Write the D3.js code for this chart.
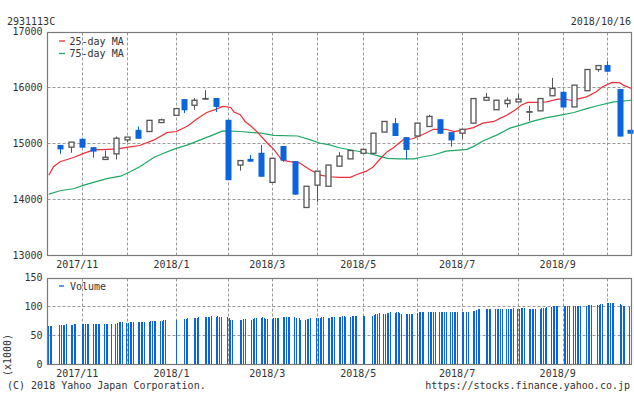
<!DOCTYPE html>
<html>
<head>
<meta charset="utf-8">
<script src="https://cdn.jsdelivr.net/npm/d3@7"></script>
<style>
  body { margin: 0; background: #fff; }
  text { font-family: "DejaVu Sans Mono", monospace; font-size: 10px; fill: #333; }
</style>
</head>
<body>
<div id="chart"></div>
<script>
// Weekly candles (first trading day of each week)
const weekDates = ["2017-10-23","2017-10-30","2017-11-06","2017-11-13","2017-11-20","2017-11-27","2017-12-04","2017-12-11","2017-12-18","2017-12-25",
  "2018-01-04","2018-01-09","2018-01-15","2018-01-22","2018-01-29","2018-02-05","2018-02-13","2018-02-19","2018-02-26","2018-03-05",
  "2018-03-12","2018-03-19","2018-03-26","2018-04-02","2018-04-09","2018-04-16","2018-04-23","2018-05-01","2018-05-07","2018-05-14",
  "2018-05-21","2018-05-28","2018-06-04","2018-06-11","2018-06-18","2018-06-25","2018-07-02","2018-07-09","2018-07-17","2018-07-23",
  "2018-07-30","2018-08-06","2018-08-13","2018-08-20","2018-08-27","2018-09-03","2018-09-10","2018-09-18","2018-09-25","2018-10-01",
  "2018-10-09","2018-10-15"];
const opens  = [14970,14930,15080,14930,14710,14810,15060,15240,15210,15370,15500,15790,15680,15790,15810,15420,14610,14720,14830,14300,
  14950,14680,13850,14250,14230,14590,14720,14820,14820,15200,15360,15110,15130,15300,15430,15200,15180,15360,15770,15600,
  15710,15740,15560,15580,15850,15920,15650,15940,16320,16400,15970,15240];
const highs  = [14970,15020,15080,14930,14870,15120,15110,15300,15410,15440,15620,15790,15810,15950,15810,15420,14690,14790,14970,14730,
  14950,14680,14230,14500,14610,14840,14870,14890,15180,15390,15450,15110,15360,15510,15430,15200,15250,15800,15900,15770,
  15820,15880,15670,15800,16170,15930,16040,16320,16390,16470,15970,15240];
const lows   = [14810,14830,14920,14740,14710,14710,15020,15080,15210,15370,15500,15540,15600,15780,15560,14340,14510,14670,14400,14300,
  14670,14080,13850,13950,14230,14590,14720,14820,14820,15200,15130,14710,15130,15300,15170,14940,15080,15360,15770,15600,
  15640,15740,15400,15580,15850,15640,15650,15940,16280,16280,15120,15170];
const closes = [14890,15020,14920,14850,14750,15090,15110,15080,15410,15420,15620,15590,15770,15800,15650,14340,14690,14670,14400,14730,
  14690,14080,14230,14500,14610,14770,14870,14890,15180,15390,15130,14880,15360,15480,15170,15050,15250,15800,15820,15770,
  15770,15790,15565,15800,15980,15640,16040,16320,16390,16280,15120,15170];

// 25-day moving average
const ma25Dates = ["2017-10-16","2017-10-19","2017-10-23","2017-11-01","2017-11-06","2017-11-13","2017-11-22","2017-11-28","2017-12-05","2017-12-12",
  "2017-12-21","2017-12-29","2018-01-04","2018-01-11","2018-01-17","2018-01-23","2018-01-29","2018-02-02","2018-02-07","2018-02-09",
  "2018-02-13","2018-02-16","2018-02-20","2018-02-24","2018-03-02","2018-03-06","2018-03-11","2018-03-16","2018-03-22","2018-03-29",
  "2018-04-04","2018-04-10","2018-04-16","2018-04-23","2018-04-27","2018-05-03","2018-05-07","2018-05-11","2018-05-16","2018-05-20",
  "2018-05-26","2018-06-01","2018-06-06","2018-06-14","2018-06-22","2018-06-27","2018-07-03","2018-07-09","2018-07-15","2018-07-22",
  "2018-07-26","2018-07-30","2018-08-04","2018-08-08","2018-08-12","2018-08-18","2018-08-24","2018-08-31","2018-09-04","2018-09-08",
  "2018-09-12","2018-09-18","2018-09-24","2018-09-28","2018-10-04","2018-10-09","2018-10-11","2018-10-16"];
const ma25Values = [14430,14580,14670,14750,14810,14880,14890,14900,14930,14960,
  15060,15190,15210,15310,15440,15550,15610,15660,15640,15560,
  15510,15390,15300,15190,15000,14890,14700,14670,14650,14520,
  14430,14400,14390,14390,14440,14500,14570,14700,14850,14920,
  15060,15080,15140,15250,15250,15210,15240,15280,15360,15390,
  15450,15500,15590,15680,15730,15730,15740,15790,15790,15770,
  15790,15830,15920,16010,16090,16080,16040,15980];

// 75-day moving average
const ma75Dates = ["2017-10-16","2017-10-23","2017-11-01","2017-11-07","2017-11-13","2017-11-22","2017-11-30","2017-12-06","2017-12-12","2017-12-21",
  "2017-12-27","2018-01-02","2018-01-11","2018-01-19","2018-01-27","2018-02-02","2018-02-13","2018-02-26","2018-03-06","2018-03-21",
  "2018-03-29","2018-04-04","2018-04-10","2018-04-16","2018-04-25","2018-05-03","2018-05-11","2018-05-16","2018-05-24","2018-06-02",
  "2018-06-06","2018-06-14","2018-06-22","2018-07-05","2018-07-09","2018-07-15","2018-07-24","2018-08-01","2018-08-08","2018-08-16",
  "2018-08-24","2018-09-01","2018-09-10","2018-09-18","2018-09-26","2018-10-05","2018-10-16"];
const ma75Values = [14090,14150,14190,14250,14300,14370,14410,14490,14580,14750,
  14820,14890,14970,15060,15150,15220,15210,15180,15140,15130,
  15060,15000,14970,14920,14870,14830,14770,14730,14720,14720,
  14750,14790,14860,14890,14940,15040,15150,15270,15330,15400,
  15460,15500,15550,15620,15680,15740,15770];

// Daily volume (x1000), one row per week, Mon..Fri, null = no bar
const volWeeks = ["2017-10-16","2017-10-23","2017-10-30","2017-11-06","2017-11-13","2017-11-20","2017-11-27","2017-12-04","2017-12-11","2017-12-18",
  "2017-12-25","2018-01-01","2018-01-08","2018-01-15","2018-01-22","2018-01-29","2018-02-05","2018-02-12","2018-02-19","2018-02-26",
  "2018-03-05","2018-03-12","2018-03-19","2018-03-26","2018-04-02","2018-04-09","2018-04-16","2018-04-23","2018-04-30","2018-05-07",
  "2018-05-14","2018-05-21","2018-05-28","2018-06-04","2018-06-11","2018-06-18","2018-06-25","2018-07-02","2018-07-09","2018-07-16",
  "2018-07-23","2018-07-30","2018-08-06","2018-08-13","2018-08-20","2018-08-27","2018-09-03","2018-09-10","2018-09-17","2018-09-24",
  "2018-10-01","2018-10-08","2018-10-15"];
const volDaily = [
  [66,66,66,null,null],[67,67,67,68,69],[67,68,69,69,null],[70,69,70,70,70],[70,70,70,70,70],
  [70,70,70,null,70],[70,71,72,72,72],[71,71,72,73,73],[73,73,73,73,73],[73,74,74,74,75],
  [75,75,76,76,null],[null,null,null,76,null],[null,78,78,79,null],[79,79,80,81,null],[81,82,82,82,83],
  [82,83,82,82,null],[81,79,77,76,null],[null,76,77,78,78],[null,77,78,79,79],[79,81,80,78,78],
  [78,80,79,80,80],[81,81,81,81,81],[81,79,null,79,77],[76,78,78,80,null],[79,80,80,81,81],
  [79,79,81,82,82],[82,82,83,84,82],[82,83,84,84,84],[null,84,84,null,null],[84,85,86,87,88],
  [87,87,88,88,90],[89,90,90,89,87],[87,87,86,87,87],[89,90,90,91,91],[91,91,91,91,91],
  [91,91,91,90,90],[91,90,90,90,90],[91,91,null,91,91],[92,92,93,95,95],[null,95,96,96,96],
  [95,95,95,96,96],[95,95,96,96,97],[96,96,97,97,97],[95,96,95,96,96],[96,97,97,97,98],
  [99,100,100,100,101],[null,100,100,100,101],[100,100,100,101,101],[null,101,102,103,103],[null,103,103,104,104],
  [105,105,105,105,105],[null,104,103,101,100],[99,null,null,null,null]
];

const priceTicks = [13000, 14000, 15000, 16000, 17000];
const volTicks = [0, 50, 100, 150];

const width = 634, height = 394;
const left = 47.5, right = 631.5;
const parse = d3.utcParse("%Y-%m-%d");
const fmtMonth = d3.utcFormat("%Y/%-m");

const candles = weekDates.map((d, i) => ({
  date: parse(d), o: opens[i], h: highs[i], l: lows[i], c: closes[i]
}));
const ma25 = ma25Dates.map((d, i) => ({ date: parse(d), v: ma25Values[i] }));
const ma75 = ma75Dates.map((d, i) => ({ date: parse(d), v: ma75Values[i] }));
const vols = [];
volWeeks.forEach((w, i) => {
  volDaily[i].forEach((v, j) => {
    if (v != null) vols.push({ date: d3.utcDay.offset(parse(w), j), v: v });
  });
});

// month gridlines at first candle of each month
const monthStarts = candles.filter((c, i) => i > 0 &&
  c.date.getUTCMonth() !== candles[i - 1].date.getUTCMonth()).map(c => c.date);

const x = d3.scaleUtc()
  .domain([parse("2017-10-16"), parse("2018-10-16")])
  .range([48.8, 631.3]);
const y = d3.scaleLinear().domain([13000, 17000]).range([255, 31.5]);
const yv = d3.scaleLinear().domain([0, 150]).range([364, 277.5]);

const blue = "#0a64dc", gray = "#555", gridCol = "#999", frameCol = "#7a7a7a";

const svg = d3.select("#chart").append("svg")
  .attr("width", width).attr("height", height);

// header
svg.append("text").attr("x", 7).attr("y", 25).text("2931113C");
svg.append("text").attr("x", 631).attr("y", 25).attr("text-anchor", "end").text("2018/10/16");

function panel(yScale, top, bottom, ticks, gridVals) {
  const g = svg.append("g");
  g.selectAll("line.hg").data(gridVals).enter().append("line")
    .attr("x1", left).attr("x2", right)
    .attr("y1", d => Math.round(yScale(d)) + 0.5).attr("y2", d => Math.round(yScale(d)) + 0.5)
    .attr("stroke", gridCol).attr("stroke-dasharray", "3,2");
  g.selectAll("line.vg").data(monthStarts).enter().append("line")
    .attr("x1", d => Math.round(x(d)) + 0.5).attr("x2", d => Math.round(x(d)) + 0.5)
    .attr("y1", top).attr("y2", bottom)
    .attr("stroke", gridCol).attr("stroke-dasharray", "3,2");
  const ax = svg.append("g").attr("transform", `translate(${left},0)`)
    .call(d3.axisLeft(yScale).tickValues(ticks).tickSize(0).tickPadding(5).tickFormat(d3.format("d")));
  ax.select(".domain").remove();
  ax.selectAll("text").attr("font-family", null).attr("font-size", null).attr("fill", null);
  return g;
}

const pTop = Math.round(y(17000)) + 0.5, pBot = Math.round(y(13000)) + 0.5;
const vTop = Math.round(yv(150)) + 0.5, vBot = Math.round(yv(0)) + 0.5;
panel(y, pTop, pBot, priceTicks, [14000, 15000, 16000]);
panel(yv, vTop, vBot, volTicks, [50, 100]);

// month labels
[pBot + 12, vBot + 12].forEach(yy => {
  svg.selectAll(null).data(monthStarts.filter(d => d.getUTCMonth() % 2 === 0)).enter().append("text")
    .attr("x", d => x(d) - 5).attr("y", yy).attr("text-anchor", "middle")
    .text(d => fmtMonth(d));
});

// moving averages
const line = d3.line().x(d => x(d.date)).y(d => y(d.v));
svg.append("path").datum(ma75).attr("d", line)
  .attr("fill", "none").attr("stroke", "#20a866").attr("stroke-width", 1.2);
svg.append("path").datum(ma25).attr("d", line)
  .attr("fill", "none").attr("stroke", "#e8303a").attr("stroke-width", 1.2);

// candles
const cg = svg.append("g");
candles.forEach(d => {
  const cx = Math.round(x(d.date)) + 0.5;
  const up = d.c >= d.o;
  cg.append("line").attr("x1", cx).attr("x2", cx)
    .attr("y1", y(d.h)).attr("y2", y(d.l))
    .attr("stroke", up ? gray : blue).attr("stroke-width", 1);
  const top = y(Math.max(d.o, d.c)), bot = y(Math.min(d.o, d.c));
  if (up) {
    cg.append("rect").attr("x", cx - 2.5).attr("y", top)
      .attr("width", 5).attr("height", Math.max(bot - top, 0.5))
      .attr("fill", "#fff").attr("stroke", gray).attr("stroke-width", 1.3);
  } else {
    cg.append("rect").attr("x", cx - 3).attr("y", top)
      .attr("width", 6).attr("height", Math.max(bot - top, 1))
      .attr("fill", blue);
  }
});

// volume bars
svg.append("g").attr("shape-rendering", "crispEdges")
  .selectAll("rect").data(vols).enter().append("rect")
  .attr("x", d => Math.floor(x(d.date))).attr("width", 1)
  .attr("y", d => Math.round(yv(d.v))).attr("height", d => Math.round(yv(0)) - Math.round(yv(d.v)))
  .attr("fill", blue);

// frames
[[pTop, pBot], [vTop, vBot]].forEach(([t, b]) => {
  svg.append("rect").attr("x", left).attr("y", t)
    .attr("width", right - left).attr("height", b - t)
    .attr("fill", "none").attr("stroke", frameCol).attr("stroke-width", 1.2);
});

// legends
const legend = [["25-day MA", "#e8303a", 41], ["75-day MA", "#20a866", 53.5]];
legend.forEach(([t, col, ly]) => {
  svg.append("line").attr("x1", 59).attr("x2", 65).attr("y1", ly).attr("y2", ly)
    .attr("stroke", col).attr("stroke-width", 1.3);
  svg.append("text").attr("x", 69.5).attr("y", ly).attr("dy", "0.35em").text(t);
});
svg.append("line").attr("x1", 59).attr("x2", 64).attr("y1", 286).attr("y2", 286)
  .attr("stroke", blue).attr("stroke-width", 1.3);
svg.append("text").attr("x", 70).attr("y", 286).attr("dy", "0.35em").text("Volume");

svg.append("text").attr("transform", "translate(11,355) rotate(-90)")
  .attr("text-anchor", "middle").text("(x1000)");

// footer
svg.append("text").attr("x", 7).attr("y", 389).text("(C) 2018 Yahoo Japan Corporation.");
svg.append("text").attr("x", 630).attr("y", 389).attr("text-anchor", "end")
  .text("https://stocks.finance.yahoo.co.jp");
</script>
</body>
</html>
